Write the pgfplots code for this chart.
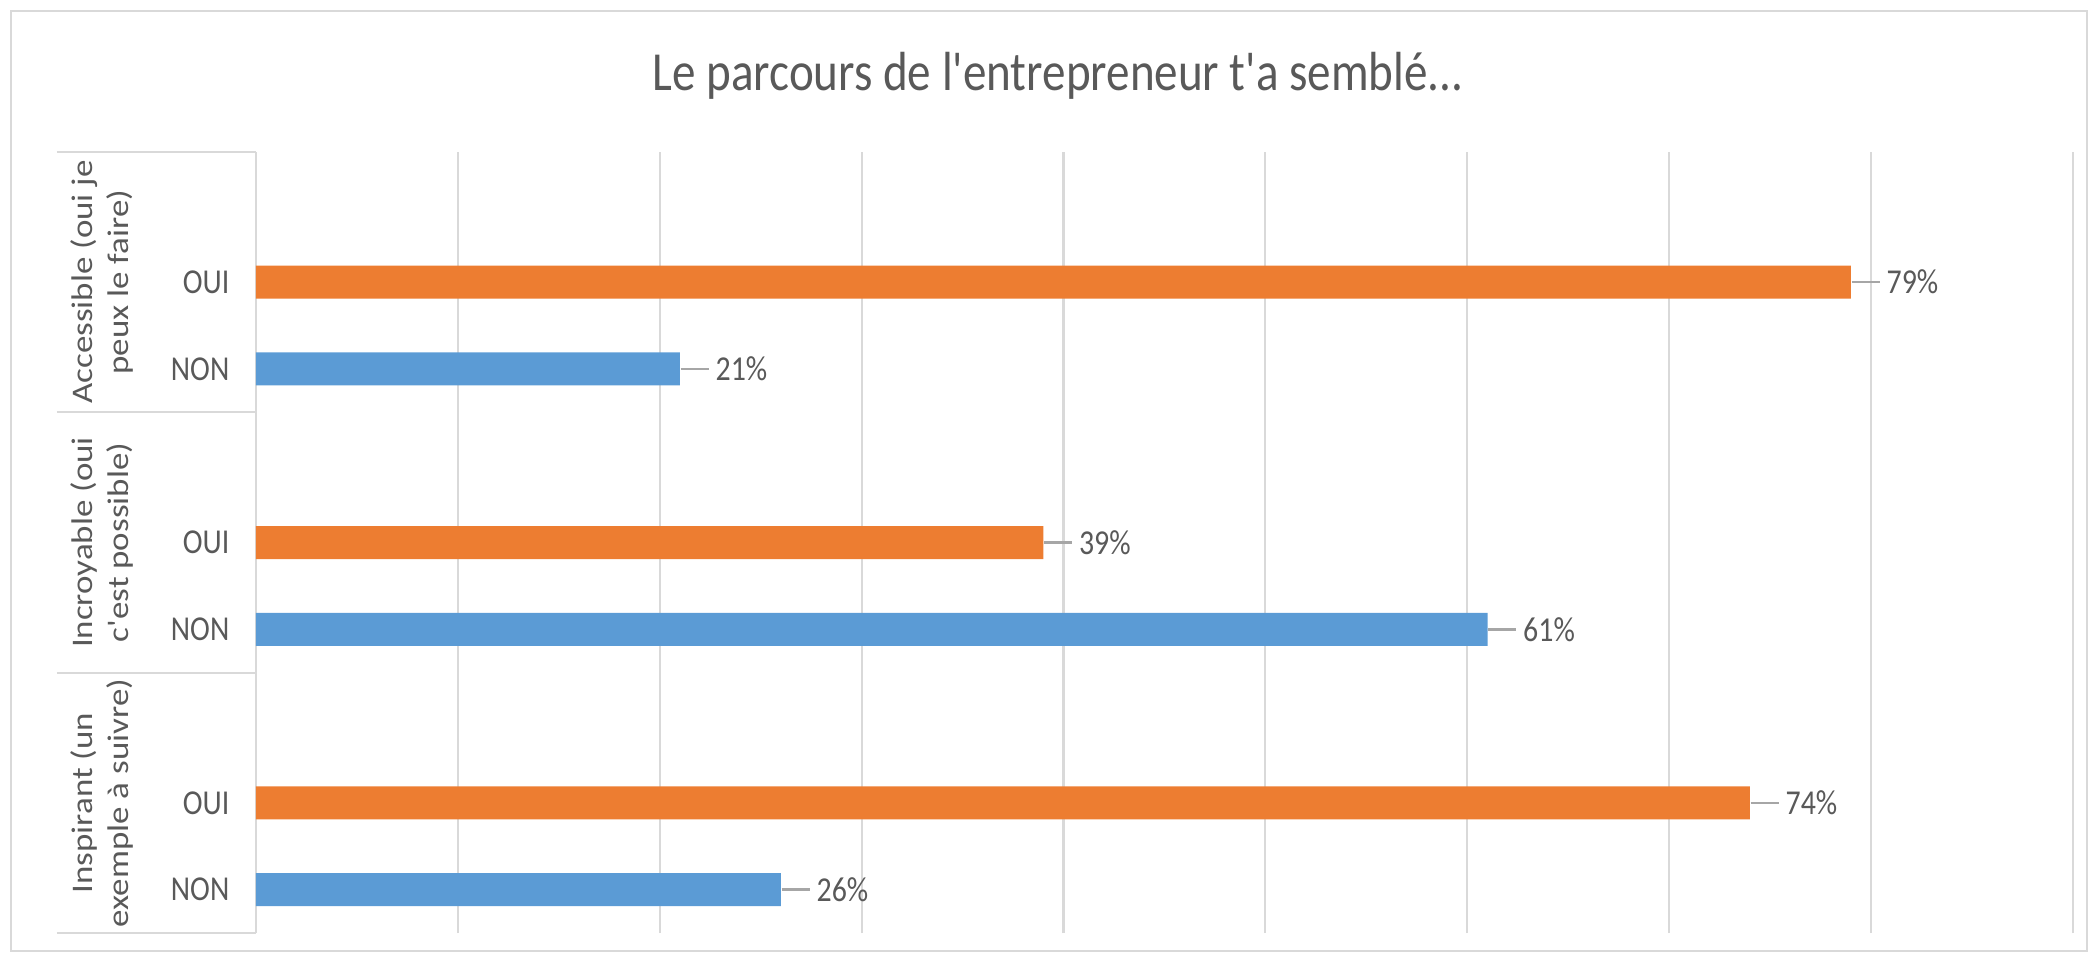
\documentclass[border=0pt]{standalone}
\usepackage{fontspec}
\setmainfont{Carlito}
\usepackage{pgfplots}
\pgfplotsset{compat=1.18}
\definecolor{oui}{HTML}{ED7D31}
\definecolor{non}{HTML}{5B9BD5}
\definecolor{gridc}{HTML}{D9D9D9}
\definecolor{txt}{HTML}{595959}
\definecolor{leader}{HTML}{A6A6A6}

\newcommand{\lbl}[1]{\scalebox{1}[1.17]{#1}}
\newcommand{\grp}[2]{\scalebox{1.17}[1]{\fontsize{8.5}{10.2}\selectfont\begin{tabular}{@{}c@{}}#1\\#2\end{tabular}}}

\begin{document}
\begin{tikzpicture}
\useasboundingbox (-25.6mm,-3.9mm) rectangle (183.9mm,93.3mm);
\draw[gridc, line width=0.6pt] (-24.5mm,-1.8mm) rectangle (183.1mm,92.2mm);

% title
\node[txt] at (80.2mm,85.7mm) {\lbl{\fontsize{13.4}{16}\selectfont Le parcours de l\textquotesingle entrepreneur t\textquotesingle a semblé...}};

\begin{axis}[
    at={(0,0)}, anchor=south west, scale only axis,
    width=181.7mm, height=78.1mm,
    xmin=0, xmax=90, ymin=0.5, ymax=9.5,
    xbar, bar width=3.3mm, bar shift=0pt,
    xtick={0,10,...,90}, xticklabels={},
    xmajorgrids, grid style={gridc, line width=0.6pt},
    ytick={1,2,4,5,7,8},
    yticklabels={\lbl{NON},\lbl{OUI},\lbl{NON},\lbl{OUI},\lbl{NON},\lbl{OUI}},
    yticklabel style={txt, font=\fontsize{8.5}{10}\selectfont, anchor=east, inner sep=0pt, xshift=-2.6mm},
    major tick length=0pt,
    axis line style={draw=none},
    /pgf/number format/assume math mode=true,
    nodes near coords={\lbl{\textcolor{leader}{\rule[0.3em]{2.8mm}{0.6pt}}\hspace{0.7mm}\pgfmathprintnumber{\pgfplotspointmeta}\%}},
    nodes near coords style={txt, font=\fontsize{8.5}{10}\selectfont, anchor=west, inner sep=0pt},
    clip=false,
]
\addplot[fill=oui, draw=none] coordinates {(79,8) (39,5) (74,2)};
\addplot[fill=non, draw=none] coordinates {(21,7) (61,4) (26,1)};
\end{axis}

% category groups
\foreach \yy in {0,26.03,52.07,78.1}
  \draw[gridc, line width=0.6pt] (-19.9mm,\yy mm) -- (0,\yy mm);
\node[txt, rotate=90] at (-15.3mm,65.1mm) {\grp{Accessible (oui je}{peux le faire)}};
\node[txt, rotate=90] at (-15.3mm,39.05mm) {\grp{Incroyable (oui}{c\textquotesingle est possible)}};
\node[txt, rotate=90] at (-15.3mm,13.0mm) {\grp{Inspirant (un}{exemple à suivre)}};
\end{tikzpicture}
\end{document}
